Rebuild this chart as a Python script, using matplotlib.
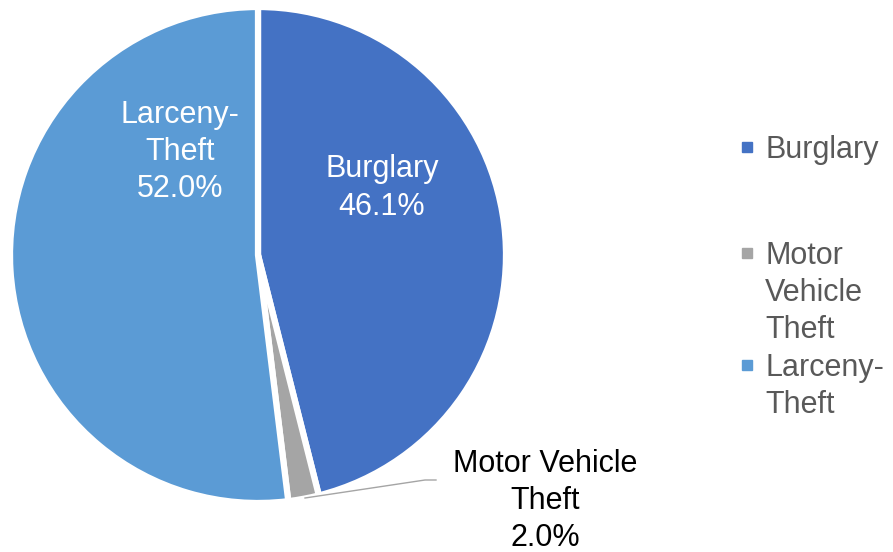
import matplotlib.pyplot as plt
from matplotlib.patches import Rectangle

plt.rcParams['font.family'] = ['Liberation Sans', 'DejaVu Sans']

# Данні
categories = ['Burglary', 'Motor Vehicle Theft', 'Larceny-Theft']
shares = [46.1, 2.0, 52.0]
colors = ['#4472C4', '#A5A5A5', '#5B9BD5']
legend_labels = ['Burglary', 'Motor\nVehicle\nTheft', 'Larceny-\nTheft']

W, H = 893, 552
fig = plt.figure(figsize=(W / 100, H / 100), dpi=100)
ax = fig.add_axes([0, 0, 1, 1])

cx, cy, r = 258, H - 255, 248
wedges, _ = ax.pie(shares, colors=colors, startangle=90, counterclock=False,
                   center=(cx, cy), radius=r, frame=True,
                   wedgeprops=dict(edgecolor='white', linewidth=4.5))
ax.set_xlim(0, W)
ax.set_ylim(0, H)
ax.set_aspect('equal')
ax.axis('off')

fs = 22
ls = 1.31
# Підписи на секторах
ax.text(180, H - 152, f'Larceny-\nTheft\n{shares[2]:.1f}%', color='white',
        fontsize=fs, ha='center', va='center', linespacing=ls)
ax.text(382, H - 188, f'Burglary\n{shares[0]:.1f}%', color='white',
        fontsize=fs, ha='center', va='center', linespacing=ls)
ax.text(545, H - 501, f'Motor Vehicle\nTheft\n{shares[1]:.1f}%', color='black',
        fontsize=fs, ha='center', va='center', linespacing=ls)
ax.plot([305, 425, 436], [H - 498, H - 480, H - 480], color='#A5A5A5', lw=1)

# Легенда
legend_y = [147, 253, 365]
for lab, col, y in zip(legend_labels, colors, legend_y):
    ax.add_patch(Rectangle((742, H - y - 5), 10, 10, color=col))
    ax.text(765, H - y + 12, lab, color='#595959', fontsize=fs, ha='left',
            va='top', linespacing=ls)

fig.savefig('out.png', dpi=100)
